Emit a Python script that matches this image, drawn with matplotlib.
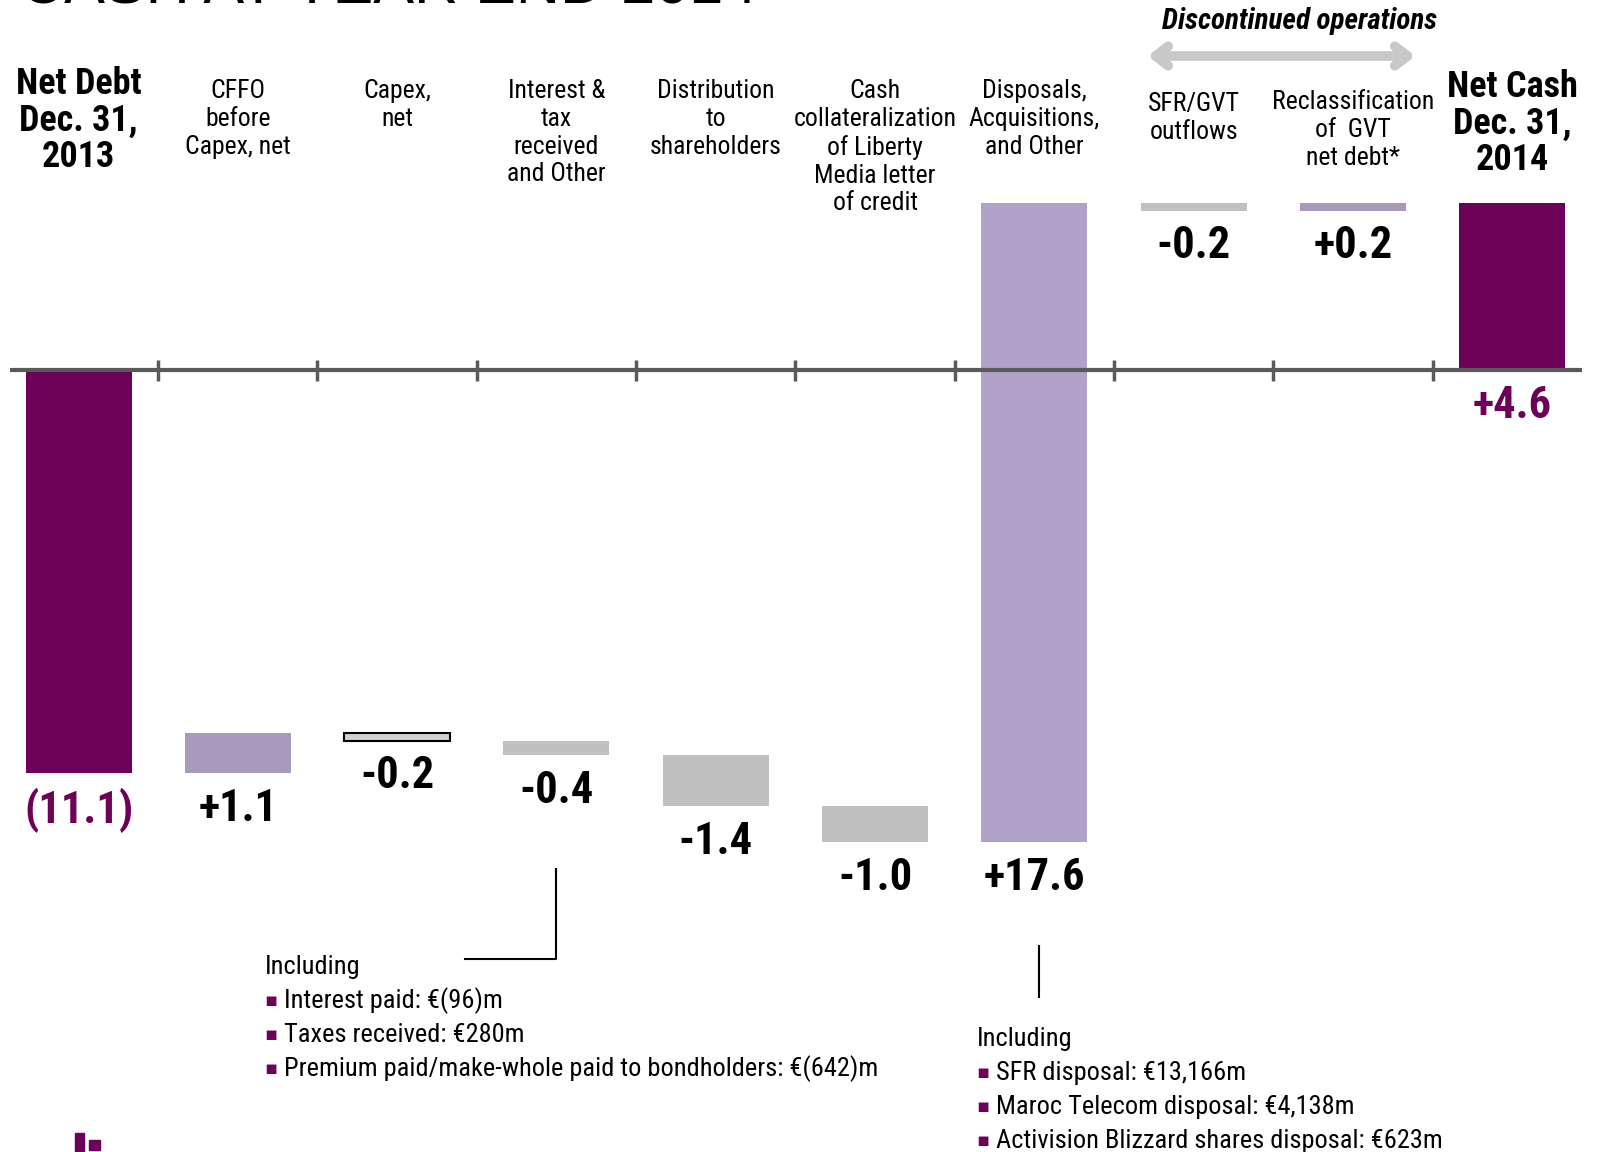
import numpy as np
import matplotlib.pyplot as plt
from matplotlib import font_manager

categories = ["Net Debt\nDec. 31,\n2013", "CFFO\nbefore\nCapex, net", "Capex,\nnet",
              "Interest &\ntax\nreceived\nand Other", "Distribution\nto\nshareholders",
              "Cash\ncollateralization\nof Liberty\nMedia letter\nof credit",
              "Disposals,\nAcquisitions,\nand Other", "SFR/GVT\noutflows",
              "Reclassification\nof  GVT\nnet debt*", "Net Cash\nDec. 31,\n2014"]
start_value = -11.1
changes = [1.1, -0.2, -0.4, -1.4, -1.0, 17.6, -0.2, 0.2]
end_value = 4.6
value_labels = ["(11.1)", "+1.1", "-0.2", "-0.4", "-1.4", "-1.0", "+17.6", "-0.2", "+0.2", "+4.6"]
bar_colors = ["#6d0057", "#a99abd", "#d0d0d0", "#c0c0c0", "#c0c0c0", "#c0c0c0",
              "#b1a2c9", "#c0c0c0", "#a99abd", "#6d0057"]
interest_notes = ["Interest paid: €(96)m", "Taxes received: €280m",
                  "Premium paid/make-whole paid to bondholders: €(642)m"]
disposal_notes = ["SFR disposal: €13,166m", "Maroc Telecom disposal: €4,138m",
                  "Activision Blizzard shares disposal: €623m"]

names = {f.name for f in font_manager.fontManager.ttflist}
def pick(options):
    for o in options:
        if o in names:
            return o
    return 'DejaVu Sans'

narrow = pick(['Roboto Condensed', 'Asap Condensed', 'Pragati Narrow'])
plt.rcParams['font.family'] = [narrow, 'DejaVu Sans']

purple = "#6d0057"

# waterfall geometry
bottoms = [0.0]
heights = [start_value]
level = start_value
for c in changes:
    bottoms.append(level)
    heights.append(c)
    level += c
bottoms.append(0.0)
heights.append(end_value)
x = np.arange(len(categories))

fig = plt.figure(figsize=(16, 11.52), dpi=100)
ax = fig.add_axes([0, 0, 1, 1])
ax.set_xlim(-0.493, 9.551)
ax.set_ylim(-21.53, 10.204)
ax.axis('off')

edges = ['none'] * len(x)
edges[2] = 'black'
ax.bar(x, heights, bottom=bottoms, width=0.665, color=bar_colors,
       edgecolor=edges, linewidth=1.5, zorder=2)

# zero line with ticks between categories
ax.hlines(0, -0.43, 9.44, color="#5a5a5a", lw=3, zorder=3)
ax.vlines(x[:-1] + 0.5, -0.28, 0.28, color="#5a5a5a", lw=2.5, zorder=3)

for i in x:
    low = min(bottoms[i], bottoms[i] + heights[i])
    col = purple if i in (0, len(x) - 1) else 'black'
    ax.text(i, low - 0.4, value_labels[i], ha='center', va='top', fontsize=32,
            fontweight='bold', color=col)

# overlay in pixel coordinates for text and callouts
ov = fig.add_axes([0, 0, 1, 1])
ov.set_xlim(0, 1600)
ov.set_ylim(1152, 0)
ov.axis('off')
ov.patch.set_alpha(0)

label_top = [66, 79, 79, 79, 79, 79, 79, 92, 90, 69]
centers = ax.transData.transform(np.column_stack([x, np.zeros(len(x))]))[:, 0]
for i, lab in enumerate(categories):
    bold = i in (0, len(x) - 1)
    ov.text(centers[i], label_top[i], lab, ha='center', va='top',
            fontsize=26 if bold else 18.5, fontweight='bold' if bold else 'normal',
            linespacing=1.02 if bold else 1.2)

ov.text(20, 4, "CASH AT YEAR END 2014", ha='left', va='baseline', fontsize=44,
        family='Liberation Sans')

ov.text(1300, 21, "Discontinued operations", ha='center', va='center', fontsize=21,
        fontweight='bold', style='italic')
ov.annotate('', xy=(1418, 56), xytext=(1145, 56),
            arrowprops=dict(arrowstyle='<->,head_length=0.9,head_width=0.7',
                            lw=7, color="#c8c8c8"))

# callout lines
ov.plot([556, 556, 465], [869, 959, 959], color='black', lw=1.5)
ov.plot([1039, 1039], [946, 997], color='black', lw=1.5)

def notes(x0, y0, lines):
    ov.text(x0, y0, "Including", ha='left', va='center', fontsize=19)
    for k, t in enumerate(lines):
        yy = y0 + 34 * (k + 1)
        ov.text(x0 + 6, yy, "\u25aa", ha='center', va='center', fontsize=14,
                color=purple, family='DejaVu Sans')
        ov.text(x0 + 19, yy, t, ha='left', va='center', fontsize=19)

notes(265, 967, interest_notes)
notes(977, 1039, disposal_notes)

# logo fragment
ov.add_patch(plt.Rectangle((75, 1133), 9, 19, color=purple))
ov.add_patch(plt.Rectangle((89, 1140), 11, 10, color=purple))

fig.savefig("out.png", dpi=100)
